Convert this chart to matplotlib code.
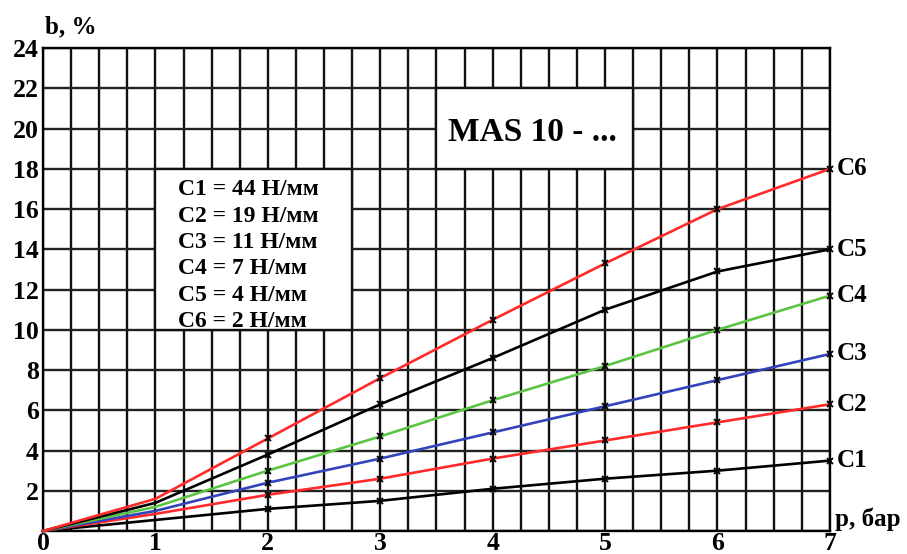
import matplotlib
matplotlib.use("Agg")
import matplotlib.pyplot as plt
from matplotlib.patches import Rectangle
import numpy as np

p = [0, 1, 2, 3, 4, 5, 6, 7]
c1 = [0, 0.55, 1.1, 1.5, 2.1, 2.6, 3.0, 3.5]
c2 = [0, 0.85, 1.8, 2.6, 3.6, 4.5, 5.4, 6.3]
c3 = [0, 1.0, 2.4, 3.6, 4.9, 6.2, 7.5, 8.8]
c4 = [0, 1.2, 3.0, 4.7, 6.5, 8.2, 10.0, 11.7]
c5 = [0, 1.4, 3.8, 6.3, 8.6, 11.0, 12.9, 14.0]
c6 = [0, 1.6, 4.6, 7.6, 10.5, 13.3, 16.0, 18.0]
names = ["C1", "C2", "C3", "C4", "C5", "C6"]
colors = ["#000000", "#ff2a2a", "#3344bb", "#5cc444", "#000000", "#ff2a2a"]
legend_lines = ["C1 = 44 Н/мм", "C2 = 19 Н/мм", "C3 = 11 Н/мм",
                "C4 = 7 Н/мм", "C5 = 4 Н/мм", "C6 = 2 Н/мм"]
xticks = [0, 1, 2, 3, 4, 5, 6, 7]
yticks = [2, 4, 6, 8, 10, 12, 14, 16, 18, 20, 22, 24]

plt.rcParams['font.family'] = ['Liberation Serif', 'DejaVu Serif']
plt.rcParams['font.weight'] = 'bold'

fig = plt.figure(figsize=(9.07, 5.54), dpi=100)
ax = fig.add_axes([0.0474, 0.0415, 0.915 - 0.0474, 0.913 - 0.0415])
ax.set_xlim(0, 7)
ax.set_ylim(0, 24)

# grid
for gx in np.arange(0, 7.01, 0.25):
    ax.axvline(gx, color='#111111', lw=1.7, zorder=1)
for gy in np.arange(0, 24.01, 2):
    ax.axhline(gy, color='#222222', lw=1.7, zorder=1)

for s in ax.spines.values():
    s.set_linewidth(1.7)
ax.tick_params(axis='x', length=0, pad=0.5)
ax.tick_params(axis='y', length=0, pad=3)
ax.set_xticks(xticks)
ax.set_yticks([0] + yticks)
ax.set_xticklabels([str(v) for v in xticks], fontsize=18.5, fontweight='bold')
ax.set_yticklabels([''] + [str(v) for v in yticks], fontsize=18.5, fontweight='bold')

series = [c1, c2, c3, c4, c5, c6]
for name, ys, col in zip(names, series, colors):
    ax.plot(p, ys, color=col, lw=1.9, zorder=3, clip_on=False)
    ax.plot(p[2:], ys[2:], ls='none', marker='x', ms=5, mew=1.3,
            color='black', zorder=4, clip_on=False)
    ax.annotate(name, (7, ys[-1]), xytext=(5, 0), textcoords='offset points',
                va='center', ha='left', fontsize=18, fontweight='bold',
                annotation_clip=False)

# legend box (bordered by grid lines)
ax.add_patch(Rectangle((1.0, 10.0), 1.75, 8.0, fc='white', ec='#111111',
                       lw=1.7, zorder=2))
for i, line in enumerate(legend_lines):
    ax.text(1.2, 16.96 - i * 1.31, line, fontsize=17, fontweight='bold',
            va='center', ha='left', zorder=5)

# title box
ax.add_patch(Rectangle((3.5, 18.0), 1.75, 4.0, fc='white', ec='#111111',
                       lw=1.7, zorder=2))
ax.text(4.35, 19.8, "MAS 10 - ...", fontsize=24, fontweight='bold',
        va='center', ha='center', zorder=5)

fig.text(45 / 907, 1 - 27 / 554, "b, %", fontsize=18, fontweight='bold',
         ha='left', va='center')
ax.annotate("p, бар", (7, 0.6), xytext=(4, 0), textcoords='offset points',
            va='center', ha='left', fontsize=18, fontweight='bold',
            annotation_clip=False)

fig.savefig("out.png", dpi=100, facecolor='white')
